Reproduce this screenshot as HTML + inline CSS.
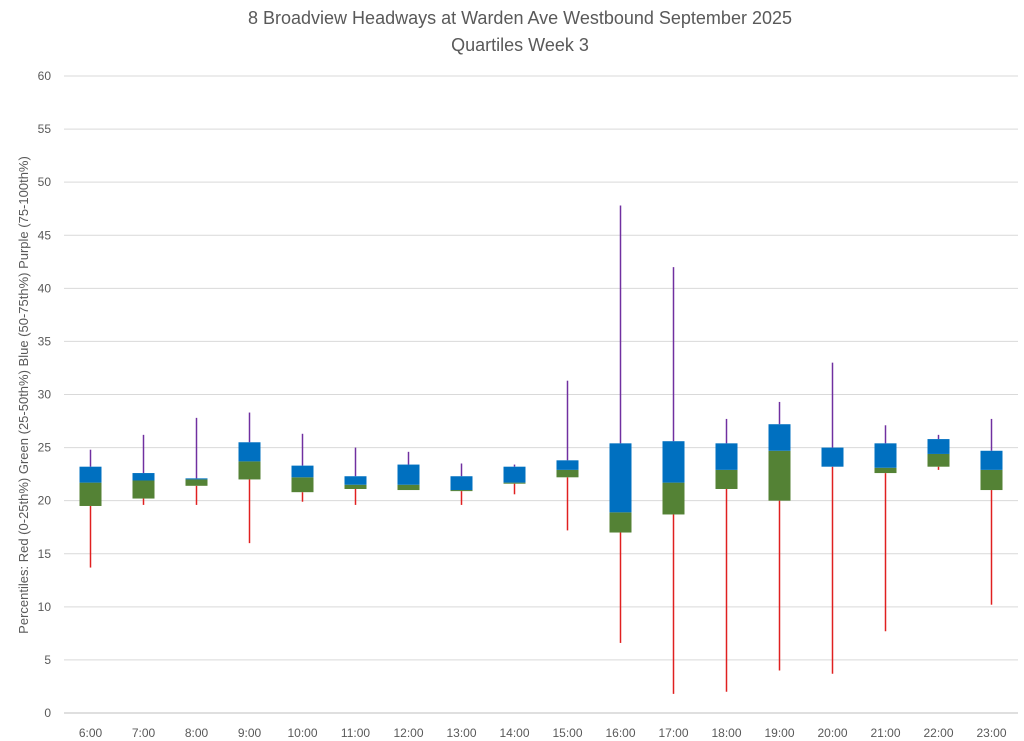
<!DOCTYPE html>
<html><head><meta charset="utf-8"><style>
html,body{margin:0;padding:0;background:#fff;}
svg{display:block;font-family:"Liberation Sans",sans-serif;}
</style></head><body>
<svg id="chart" width="1024" height="741">
<text x="520" y="24" text-anchor="middle" font-size="18" fill="#595959">8 Broadview Headways at Warden Ave Westbound September 2025</text>
<text x="520" y="51" text-anchor="middle" font-size="18" fill="#595959">Quartiles Week 3</text>
<text transform="translate(28,395) rotate(-90)" text-anchor="middle" font-size="13" fill="#595959">Percentiles:  Red (0-25th%)  Green (25-50th%)  Blue (50-75th%)  Purple (75-100th%)</text>
<g id="grid"></g><g id="marks"></g>
</svg>
<script>
const categories=["6:00","7:00","8:00","9:00","10:00","11:00","12:00","13:00","14:00","15:00","16:00","17:00","18:00","19:00","20:00","21:00","22:00","23:00"];
const minVals=[13.7,19.6,19.6,16.0,19.9,19.6,21.0,19.6,20.6,17.2,6.6,1.8,2.0,4.0,3.7,7.7,22.9,10.2];
const q1Vals=[19.5,20.2,21.4,22.0,20.8,21.1,21.0,20.9,21.6,22.2,17.0,18.7,21.1,20.0,23.2,22.6,23.2,21.0];
const medVals=[21.7,21.9,22.0,23.7,22.2,21.5,21.5,21.0,21.7,22.9,18.9,21.7,22.9,24.7,23.2,23.1,24.4,22.9];
const q3Vals=[23.2,22.6,22.1,25.5,23.3,22.3,23.4,22.3,23.2,23.8,25.4,25.6,25.4,27.2,25.0,25.4,25.8,24.7];
const maxVals=[24.8,26.2,27.8,28.3,26.3,25.0,24.6,23.5,23.4,31.3,47.8,42.0,27.7,29.3,33.0,27.1,26.2,27.7];
const yTicks=[0,5,10,15,20,25,30,35,40,45,50,55,60];
const NS="http://www.w3.org/2000/svg";
const y=v=>713-v*(637/60);
const x=i=>90.5+i*53.0;
function mk(tag,attrs,parent){const e=document.createElementNS(NS,tag);for(const k in attrs)e.setAttribute(k,attrs[k]);parent.appendChild(e);return e;}
const grid=document.getElementById('grid'),marks=document.getElementById('marks');
yTicks.forEach(t=>{
 const l=mk('line',{x1:64,x2:1018,y1:y(t),y2:y(t),stroke:t===0?'#bfbfbf':'#d9d9d9','stroke-width':1},grid);
 
 
 const tx=mk('text',{x:51,y:y(t)+4,'text-anchor':'end','font-size':12,fill:'#595959'},grid);
 tx.textContent=t;
 
 
});
categories.forEach((c,i)=>{
 const cx=x(i);
 const tx=mk('text',{x:cx,y:737,'text-anchor':'middle','font-size':12,fill:'#595959'},grid);
 tx.textContent=c;
 
 
 const lo=mk('line',{x1:cx,x2:cx,y1:y(minVals[i]),y2:y(q1Vals[i]),stroke:'#e02020','stroke-width':1.5},marks);
 
 
 const hi=mk('line',{x1:cx,x2:cx,y1:y(maxVals[i]),y2:y(q3Vals[i]),stroke:'#7030a0','stroke-width':1.5},marks);
 
 
 const g=mk('rect',{x:cx-11,y:y(medVals[i]),width:22,height:Math.max(0,y(q1Vals[i])-y(medVals[i])),fill:'#548235'},marks);
 
 
 const b=mk('rect',{x:cx-11,y:y(q3Vals[i]),width:22,height:Math.max(0,y(medVals[i])-y(q3Vals[i])),fill:'#0070c0'},marks);
 
 
});
</script>
</body></html>
